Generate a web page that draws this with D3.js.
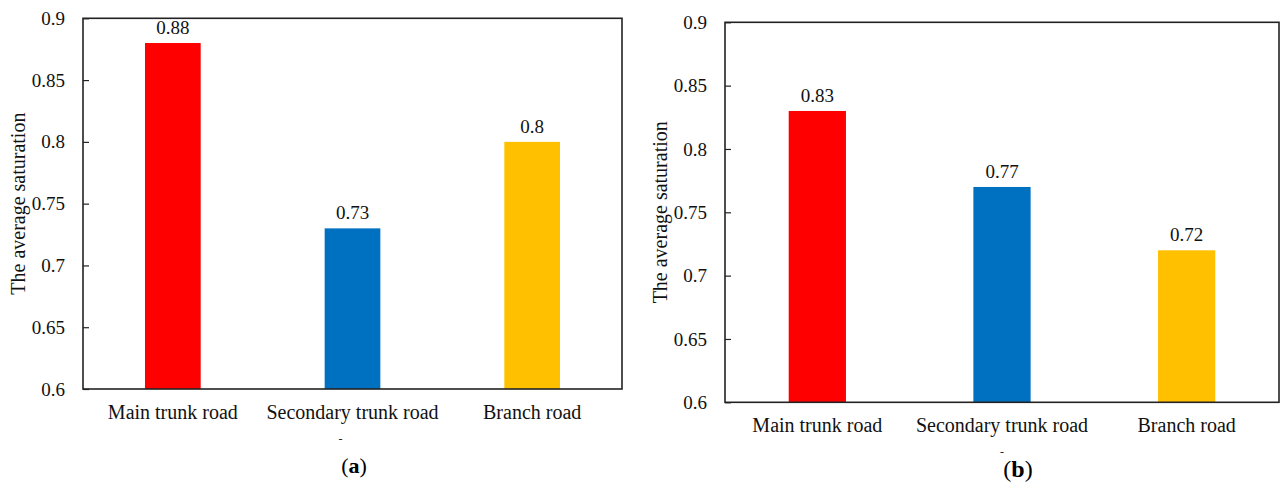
<!DOCTYPE html>
<html>
<head>
<meta charset="utf-8">
<script src="https://cdn.jsdelivr.net/npm/d3@7"></script>
<style>
  body { margin: 0; background: #fff; }
  svg { display: block; }
  svg text { font-family: "Liberation Serif", "Times New Roman", serif; }
</style>
</head>
<body>
<svg id="chart" width="1281" height="483"></svg>
<script>
const categories = ['Main trunk road', 'Secondary trunk road', 'Branch road'];
const valuesA = [0.88, 0.73, 0.8];
const valuesB = [0.83, 0.77, 0.72];
const barColors = ['#FF0000', '#0070C0', '#FFC000'];
const yTicks = [0.6, 0.65, 0.7, 0.75, 0.8, 0.85, 0.9];
const yTitle = 'The average saturation';
const panelLetters = ['a', 'b'];

const FONT = '"Liberation Serif", "Times New Roman", serif';
const svg = d3.select('#chart');

// two panels, each with its own frame box
const panels = [
  { values: valuesA, letter: panelLetters[0], left: 83, right: 622, top: 18.3, bottom: 389, capX: 354, capY: 473, capSize: 22 },
  { values: valuesB, letter: panelLetters[1], left: 725, right: 1279, top: 22.3, bottom: 402.3, capX: 1018, capY: 477, capSize: 24 }
];

panels.forEach((p) => {
  const w = p.right - p.left;
  const h = p.bottom - p.top;
  const g = svg.append('g').attr('transform', `translate(${p.left},${p.top})`);

  const x = d3.scaleBand().domain(categories).range([0, w]).paddingInner(0.69).paddingOuter(0.345);
  const y = d3.scaleLinear().domain([0.6, 0.9]).range([h, 0]);

  g.selectAll('rect.bar')
    .data(p.values)
    .enter()
    .append('rect')
    .attr('class', 'bar')
    .attr('x', (d, i) => x(categories[i]))
    .attr('y', (d) => y(d))
    .attr('width', x.bandwidth())
    .attr('height', (d) => h - y(d))
    .attr('fill', (d, i) => barColors[i]);

  g.selectAll('text.val')
    .data(p.values)
    .enter()
    .append('text')
    .attr('class', 'val')
    .attr('x', (d, i) => x(categories[i]) + x.bandwidth() / 2)
    .attr('y', (d) => y(d) - 9)
    .attr('text-anchor', 'middle')
    .style('font-family', FONT)
    .style('font-size', '19px')
    .style('fill', '#111')
    .text((d) => String(d));

  const yAxis = g.append('g')
    .call(d3.axisLeft(y).tickValues(yTicks).tickSize(-6).tickPadding(18).tickFormat((d) => String(d)))
    .attr('font-family', null)
    .attr('font-size', null);
  yAxis.select('.domain').remove();
  yAxis.selectAll('line').attr('stroke', '#222').attr('stroke-width', 1.2);
  yAxis.selectAll('text').style('font-family', FONT).style('font-size', '19px').style('fill', '#111');

  const xAxis = g.append('g')
    .attr('transform', `translate(0,${h})`)
    .call(d3.axisBottom(x).tickSize(0).tickPadding(16))
    .attr('font-family', null)
    .attr('font-size', null);
  xAxis.select('.domain').remove();
  xAxis.selectAll('text').style('font-family', FONT).style('font-size', '20px').style('fill', '#111');

  // frame
  g.append('rect')
    .attr('x', 0).attr('y', 0).attr('width', w).attr('height', h)
    .attr('fill', 'none').attr('stroke', '#222').attr('stroke-width', 1.6);

  g.append('text')
    .attr('transform', `translate(-65,${h / 2}) rotate(-90)`)
    .attr('text-anchor', 'middle')
    .attr('dominant-baseline', 'central')
    .style('font-family', FONT)
    .style('font-size', '20px')
    .style('fill', '#111')
    .text(yTitle);

  // small stray mark under the middle label
  g.append('text')
    .attr('x', x(categories[1]) + x.bandwidth() / 2 - (p.letter === 'a' ? 12 : 0))
    .attr('y', h + 54)
    .attr('text-anchor', 'middle')
    .style('font-family', FONT)
    .style('font-size', '12px')
    .style('fill', '#222')
    .text('-');

  const cap = svg.append('text')
    .attr('x', p.capX)
    .attr('y', p.capY)
    .attr('text-anchor', 'middle')
    .style('font-family', FONT)
    .style('font-size', p.capSize + 'px')
    .style('fill', '#000');
  cap.append('tspan').text('(');
  cap.append('tspan').style('font-weight', 'bold').text(p.letter);
  cap.append('tspan').text(')');
});
</script>
</body>
</html>
